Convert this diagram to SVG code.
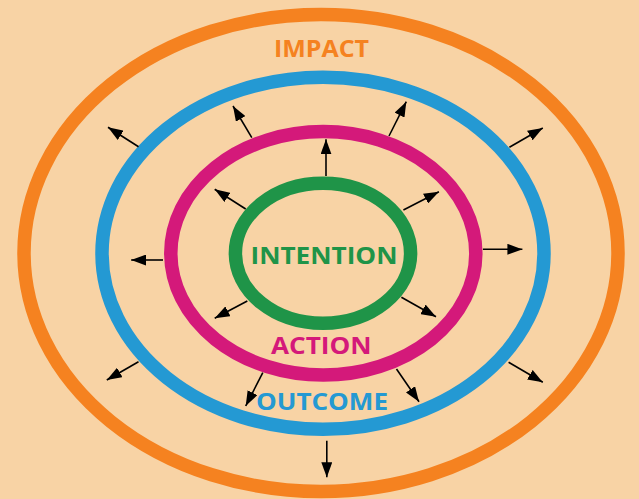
<svg xmlns="http://www.w3.org/2000/svg" width="639" height="499" viewBox="0 0 639 499">
<defs>
<marker id="ah" viewBox="0 0 15 11" refX="15" refY="5.5" markerWidth="15" markerHeight="11" markerUnits="userSpaceOnUse" orient="auto">
<path d="M0,0 L15,5.5 L0,11 z" fill="#000"/>
</marker>
</defs>
<style>
.ring{fill:none;stroke-width:13.5}
.lbl{font-family:"Open Sans",Lato,"Liberation Sans",sans-serif;font-weight:bold;font-size:23.5px;text-anchor:middle}
.arr{stroke:#000;stroke-width:1.6;fill:none;marker-end:url(#ah)}
</style>
<rect width="639" height="499" fill="#F8D3A5"/>
<g id="impact">
<ellipse class="ring" cx="321" cy="253" rx="297" ry="238.5" stroke="#F58220"/>
<text class="lbl" x="321.5" y="57" fill="#F58220" textLength="95" lengthAdjust="spacingAndGlyphs">IMPACT</text>
</g>
<g id="outcome">
<ellipse class="ring" cx="323" cy="253.3" rx="221" ry="176" stroke="#2499D3"/>
<text class="lbl" x="322" y="410" fill="#2499D3" textLength="132" lengthAdjust="spacingAndGlyphs">OUTCOME</text>
</g>
<g id="action">
<ellipse class="ring" cx="323.3" cy="253.3" rx="152.5" ry="121.7" stroke="#D4197A"/>
<text class="lbl" x="321.3" y="354" fill="#D4197A" textLength="100.6" lengthAdjust="spacingAndGlyphs">ACTION</text>
</g>
<g id="intention">
<ellipse class="ring" cx="323" cy="253.3" rx="87.6" ry="70" stroke="#1F9448"/>
<text class="lbl" x="324" y="264.3" fill="#1F9448" textLength="147" lengthAdjust="spacingAndGlyphs">INTENTION</text>
</g>
<g id="connectors">
<line class="arr" x1="138.5" y1="146.7" x2="108" y2="127.3"/>
<line class="arr" x1="251.8" y1="137.7" x2="233" y2="106"/>
<line class="arr" x1="389" y1="136" x2="406.3" y2="101.7"/>
<line class="arr" x1="509.4" y1="147.3" x2="542.8" y2="128"/>
<line class="arr" x1="326" y1="176" x2="326" y2="139.3"/>
<line class="arr" x1="245.7" y1="209" x2="214.7" y2="189.3"/>
<line class="arr" x1="403.4" y1="210" x2="438.9" y2="191.7"/>
<line class="arr" x1="482.9" y1="249.3" x2="522.4" y2="249.3"/>
<line class="arr" x1="163" y1="260" x2="131.2" y2="260"/>
<line class="arr" x1="247.3" y1="301" x2="214.7" y2="318.3"/>
<line class="arr" x1="401.4" y1="297.3" x2="436" y2="316.7"/>
<line class="arr" x1="138.5" y1="361.7" x2="106.8" y2="380"/>
<line class="arr" x1="262.8" y1="372.7" x2="245.7" y2="406"/>
<line class="arr" x1="396.5" y1="369" x2="419" y2="401.7"/>
<line class="arr" x1="508.6" y1="362.3" x2="542.8" y2="382.3"/>
<line class="arr" x1="326.8" y1="440.7" x2="326.8" y2="477.3"/>
</g>
</svg>
